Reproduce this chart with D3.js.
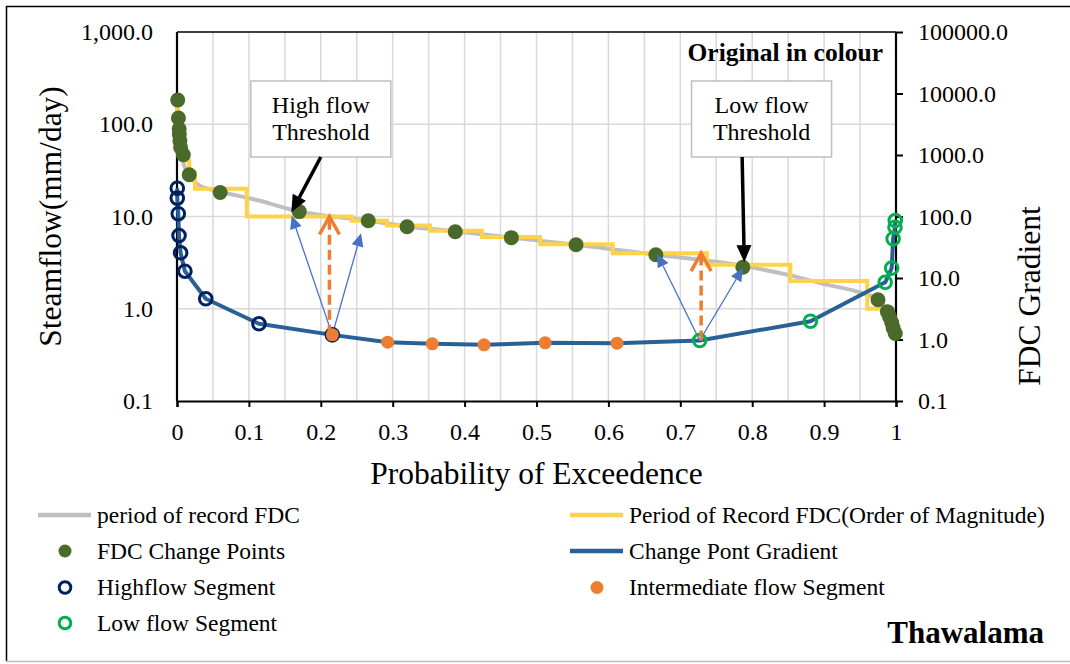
<!DOCTYPE html>
<html><head><meta charset="utf-8">
<script src="https://cdn.jsdelivr.net/npm/d3@7"></script>
<style>
body{margin:0;background:#fff}
svg{display:block;font-family:"Liberation Serif","Times New Roman",serif}
</style>
</head><body>
<svg id="chart" width="1070" height="664"></svg>
<script>
// ---- data ----
const xTicks = [0, 0.1, 0.2, 0.3, 0.4, 0.5, 0.6, 0.7, 0.8, 0.9, 1];
const flowTicks = [0.1, 1, 10, 100, 1000];
const gradTicks = [0.1, 1, 10, 100, 1000, 10000, 100000];

// period of record flow duration curve (mm/day)
const fdcP    = [0, 0.001, 0.002, 0.003, 0.004, 0.006, 0.009, 0.017, 0.03, 0.06, 0.1, 0.115, 0.17, 0.2, 0.266, 0.32, 0.387, 0.465, 0.555, 0.666, 0.787, 0.853, 0.9, 0.95, 0.975, 0.988, 0.994, 1];
const fdcFlow = [183, 117, 88.7, 66, 56, 46.7, 37.6, 28.4, 22, 18.6, 15.8, 14.8, 11.3, 10.4, 9.0, 7.8, 6.9, 5.9, 4.95, 3.85, 2.92, 2.3, 1.85, 1.5, 1.25, 0.93, 0.71, 0.5];

// FDC rounded to order of magnitude (step after each boundary)
const stepP    = [0, 0.001, 0.002, 0.003, 0.004, 0.006, 0.009, 0.013, 0.017, 0.025, 0.097, 0.243, 0.292, 0.352, 0.424, 0.505, 0.606, 0.737, 0.853, 0.96, 0.988, 0.991, 0.994, 0.997, 1];
const stepFlow = [200, 100, 90, 80, 70, 60, 50, 40, 30, 20, 10, 9, 8, 7, 6, 5, 4, 3, 2, 1, 0.9, 0.8, 0.7, 0.6, 0.6];

// FDC change points (mm/day)
const changeP    = [0.001, 0.002, 0.003, 0.0032, 0.004, 0.005, 0.0088, 0.017, 0.06, 0.17, 0.266, 0.32, 0.387, 0.465, 0.555, 0.666, 0.787, 0.975, 0.988, 0.991, 0.994, 0.996, 0.999];
const changeFlow = [183, 117, 88.7, 78.3, 66.2, 56.1, 46.7, 28.4, 18.2, 11.3, 9.0, 7.74, 6.84, 5.9, 4.94, 3.85, 2.82, 1.25, 0.93, 0.82, 0.71, 0.62, 0.54];

// change point gradients by segment
const highP    = [0.0004, 0.0004, 0.0018, 0.0028, 0.005, 0.011, 0.040, 0.114, 0.216];
const highGrad = [288, 199, 111, 49, 25.7, 12.9, 4.59, 1.80, 1.19];
const midP     = [0.216, 0.293, 0.355, 0.427, 0.512, 0.612];
const midGrad  = [1.19, 0.904, 0.851, 0.82, 0.884, 0.871];
const lowP     = [0.727, 0.881, 0.985, 0.994, 0.996, 0.9986, 0.999];
const lowGrad  = [0.963, 1.98, 8.5, 14.5, 43.4, 67, 86];

// thresholds: gradient point -> flow on the FDC
const threshP        = [0.212, 0.729];
const threshBaseGrad = [1.19, 0.963];
const threshFlow     = [10, 4];
// blue guide arrows from each threshold point to neighbouring change points
const guideP    = [[0.1595, 0.256], [0.668, 0.787]];
const guideFlow = [[10.2, 6.58], [3.92, 2.76]];
const guideBaseP = [0.216, 0.727];
// callouts
const calloutText  = [["High flow", "Threshold"], ["Low flow", "Threshold"]];
const calloutP     = [0.2, 0.813];
const calloutTailP = [0.2, 0.786];
const calloutTipP  = [0.159, 0.789];
const calloutTipFlow = [11.1, 3.2];

// ---- layout ----
const svg = d3.select("#chart");
const L = 177, R = 896, T = 32, B = 401;
const x = d3.scaleLinear([0, 1], [L, R]);
const yL = d3.scaleLog([0.1, 1000], [B, T]);
const yR = d3.scaleLog([0.1, 100000], [B, T]);

const C = {
  grid: "#d9d9d9", fdc: "#bfbfbf", step: "#ffd349", green: "#4a6a2b",
  grad: "#2a6195", navy: "#002060", orange: "#ed7d31", low: "#00b050", guide: "#4472c4"
};

// outer frame
svg.append("line").attr("x1", 6).attr("x2", 1070).attr("y1", 6.5).attr("y2", 6.5).attr("stroke", "#000").attr("stroke-width", 1.5);
svg.append("line").attr("x1", 6.5).attr("x2", 6.5).attr("y1", 6).attr("y2", 661).attr("stroke", "#000").attr("stroke-width", 1.5);
svg.append("line").attr("x1", 6).attr("x2", 1070).attr("y1", 661.5).attr("y2", 661.5).attr("stroke", "#bdbdbd").attr("stroke-width", 1.5);

// gridlines
const grid = svg.append("g");
grid.selectAll(".vg").data(d3.range(1, 20).map(i => i / 20)).join("line")
  .attr("x1", d => x(d)).attr("x2", d => x(d)).attr("y1", T).attr("y2", B)
  .attr("stroke", C.grid).attr("stroke-width", 1.5);
grid.selectAll(".hg").data([1, 10, 100]).join("line")
  .attr("x1", L).attr("x2", R).attr("y1", d => yL(d)).attr("y2", d => yL(d))
  .attr("stroke", C.grid).attr("stroke-width", 1.5);

// top border of plot
svg.append("line").attr("x1", L).attr("x2", R).attr("y1", T).attr("y2", T).attr("stroke", "#000").attr("stroke-width", 1.5);

// axes
const axX = svg.append("g").attr("transform", `translate(0,${B})`)
  .call(d3.axisBottom(x).tickValues(xTicks).tickSize(6).tickPadding(16).tickFormat(d3.format("~g")));
const axL = svg.append("g").attr("transform", `translate(${L},0)`)
  .call(d3.axisLeft(yL).tickValues(flowTicks).tickSize(0).tickPadding(24).tickFormat(d3.format(",.1f")));
const axR = svg.append("g").attr("transform", `translate(${R},0)`)
  .call(d3.axisRight(yR).tickValues(gradTicks).tickSize(7).tickPadding(15).tickFormat(d3.format(".1f")));
[axX, axL, axR].forEach(a => {
  a.select(".domain").attr("stroke", "#000").attr("stroke-width", 2.2);
  a.selectAll(".tick line").attr("stroke", "#000").attr("stroke-width", 2);
  a.selectAll(".tick text").attr("font-family", "Liberation Serif").attr("font-size", 24).attr("fill", "#000");
});
axL.select(".domain").attr("d", `M0,${B}V${T}`);
axR.select(".domain").attr("d", `M0,${B}V${T}`);

// axis titles
svg.append("text").attr("x", (L + R) / 2).attr("y", 484).attr("text-anchor", "middle")
  .attr("font-size", 31.5).text("Probability of Exceedence");
svg.append("text").attr("transform", `translate(50,${(T + B) / 2}) rotate(-90)`).attr("dy", "0.35em")
  .attr("text-anchor", "middle").attr("font-size", 31.5).text("Steamflow(mm/day)");
svg.append("text").attr("transform", "translate(1029,296) rotate(-90)").attr("dy", "0.35em")
  .attr("text-anchor", "middle").attr("font-size", 31.5).text("FDC Gradient");

// series
const fdcLine = d3.line().x(d => x(d[0])).y(d => yL(d[1])).curve(d3.curveMonotoneX);
svg.append("path").attr("d", fdcLine(d3.zip(fdcP, fdcFlow)))
  .attr("fill", "none").attr("stroke", C.fdc).attr("stroke-width", 4);

const stepLine = d3.line().x(d => x(d[0])).y(d => yL(d[1])).curve(d3.curveStepAfter);
svg.append("path").attr("d", stepLine(d3.zip(stepP, stepFlow)))
  .attr("fill", "none").attr("stroke", C.step).attr("stroke-width", 4);

const gradPts = d3.zip(highP, highGrad).concat(d3.zip(midP, midGrad).slice(1), d3.zip(lowP, lowGrad));
const gradLine = d3.line().x(d => x(d[0])).y(d => yR(d[1]));
svg.append("path").attr("d", gradLine(gradPts))
  .attr("fill", "none").attr("stroke", C.grad).attr("stroke-width", 4).attr("stroke-linejoin", "round");

// arrow helpers
function head(x1, y1, x2, y2, len, half) {
  const a = Math.atan2(y2 - y1, x2 - x1);
  const bx = x2 - len * Math.cos(a), by = y2 - len * Math.sin(a);
  const px = -Math.sin(a) * half, py = Math.cos(a) * half;
  return { base: [bx, by], pts: [[x2, y2], [bx + px, by + py], [bx - px, by - py]] };
}

// change points
svg.append("g").selectAll("circle").data(d3.zip(changeP, changeFlow)).join("circle")
  .attr("cx", d => x(d[0])).attr("cy", d => yL(d[1])).attr("r", 7.5).attr("fill", C.green);

// blue guide arrows
const guides = svg.append("g");
guideBaseP.forEach((bp, i) => {
  const bx = x(bp), by = yR(i === 0 ? midGrad[0] : lowGrad[0]);
  guideP[i].forEach((p, j) => {
    const tx = x(p), ty = yL(guideFlow[i][j]);
    const h = head(bx, by, tx, ty, 13, 6);
    guides.append("line").attr("x1", bx).attr("y1", by).attr("x2", h.base[0]).attr("y2", h.base[1])
      .attr("stroke", C.guide).attr("stroke-width", 1.3);
    guides.append("polygon").attr("points", h.pts.map(q => q.join(",")).join(" ")).attr("fill", C.guide);
  });
});

// segment markers
svg.append("g").selectAll("circle").data(d3.zip(highP, highGrad)).join("circle")
  .attr("cx", d => x(d[0])).attr("cy", d => yR(d[1])).attr("r", 6.3)
  .attr("fill", "none").attr("stroke", C.navy).attr("stroke-width", 3);
svg.append("g").selectAll("circle").data(d3.zip(midP, midGrad)).join("circle")
  .attr("cx", d => x(d[0])).attr("cy", d => yR(d[1])).attr("r", 6.5).attr("fill", C.orange);
svg.append("g").selectAll("circle").data(d3.zip(lowP, lowGrad)).join("circle")
  .attr("cx", d => x(d[0])).attr("cy", d => yR(d[1])).attr("r", 6.3)
  .attr("fill", "none").attr("stroke", C.low).attr("stroke-width", 3);

// orange threshold arrows
const th = svg.append("g");
threshP.forEach((p, i) => {
  const px = x(p), y0 = yR(threshBaseGrad[i]), y1 = yL(threshFlow[i]);
  th.append("line").attr("x1", px).attr("x2", px).attr("y1", y0).attr("y2", y1 + 2)
    .attr("stroke", C.orange).attr("stroke-width", 3.5).attr("stroke-dasharray", "10,5");
  th.append("path").attr("d", `M${px - 10},${y1 + 18}L${px},${y1}L${px + 10},${y1 + 18}`)
    .attr("fill", "none").attr("stroke", C.orange).attr("stroke-width", 3.5)
    .attr("stroke-linejoin", "miter");
});

// callouts
const co = svg.append("g");
calloutText.forEach((lines, i) => {
  const cx = x(calloutP[i]), bw = 140, bh = 76, top = 81;
  co.append("rect").attr("x", cx - bw / 2).attr("y", top).attr("width", bw).attr("height", bh)
    .attr("fill", "#fff").attr("stroke", "#bfbfbf").attr("stroke-width", 1.5);
  lines.forEach((t, k) => co.append("text").attr("x", cx).attr("y", top + 32 + k * 27)
    .attr("text-anchor", "middle").attr("font-size", 24).text(t));
  const tx0 = x(calloutTailP[i]), ty0 = top + bh;
  const tx1 = x(calloutTipP[i]), ty1 = yL(calloutTipFlow[i]);
  const h = head(tx0, ty0, tx1, ty1, 17, 7.5);
  co.append("line").attr("x1", tx0).attr("y1", ty0).attr("x2", h.base[0]).attr("y2", h.base[1])
    .attr("stroke", "#000").attr("stroke-width", 3.5);
  co.append("polygon").attr("points", h.pts.map(q => q.join(",")).join(" ")).attr("fill", "#000");
});

// notes
svg.append("text").attr("x", 883).attr("y", 61).attr("text-anchor", "end")
  .attr("font-size", 25.5).attr("font-weight", "bold").text("Original in colour");
svg.append("text").attr("x", 1044).attr("y", 643).attr("text-anchor", "end")
  .attr("font-size", 31).attr("font-weight", "bold").text("Thawalama");

// legend
const legendItems = [
  { label: "period of record FDC", kind: "line", color: C.fdc, col: 0, row: 0 },
  { label: "Period of Record FDC(Order of Magnitude)", kind: "line", color: C.step, col: 1, row: 0 },
  { label: "FDC Change Points", kind: "dot", color: C.green, col: 0, row: 1 },
  { label: "Change Pont Gradient", kind: "line", color: C.grad, col: 1, row: 1 },
  { label: "Highflow Segment", kind: "ring", color: C.navy, col: 0, row: 2 },
  { label: "Intermediate flow Segment", kind: "dot", color: C.orange, col: 1, row: 2 },
  { label: "Low flow Segment", kind: "ring", color: C.low, col: 0, row: 3 }
];
const colX = [38, 570], rowY = [515, 551, 587.5, 623];
const lg = svg.append("g");
legendItems.forEach(it => {
  const x0 = colX[it.col], y0 = rowY[it.row];
  if (it.kind === "line") {
    lg.append("line").attr("x1", x0).attr("x2", x0 + 53).attr("y1", y0).attr("y2", y0)
      .attr("stroke", it.color).attr("stroke-width", 4.5);
  } else if (it.kind === "dot") {
    lg.append("circle").attr("cx", x0 + 27).attr("cy", y0).attr("r", 6.5).attr("fill", it.color);
  } else {
    lg.append("circle").attr("cx", x0 + 27).attr("cy", y0).attr("r", 5.8)
      .attr("fill", "none").attr("stroke", it.color).attr("stroke-width", 3);
  }
  lg.append("text").attr("x", x0 + 59).attr("y", y0).attr("dy", "0.33em")
    .attr("font-size", 23.5).text(it.label);
});
</script>
</body></html>
